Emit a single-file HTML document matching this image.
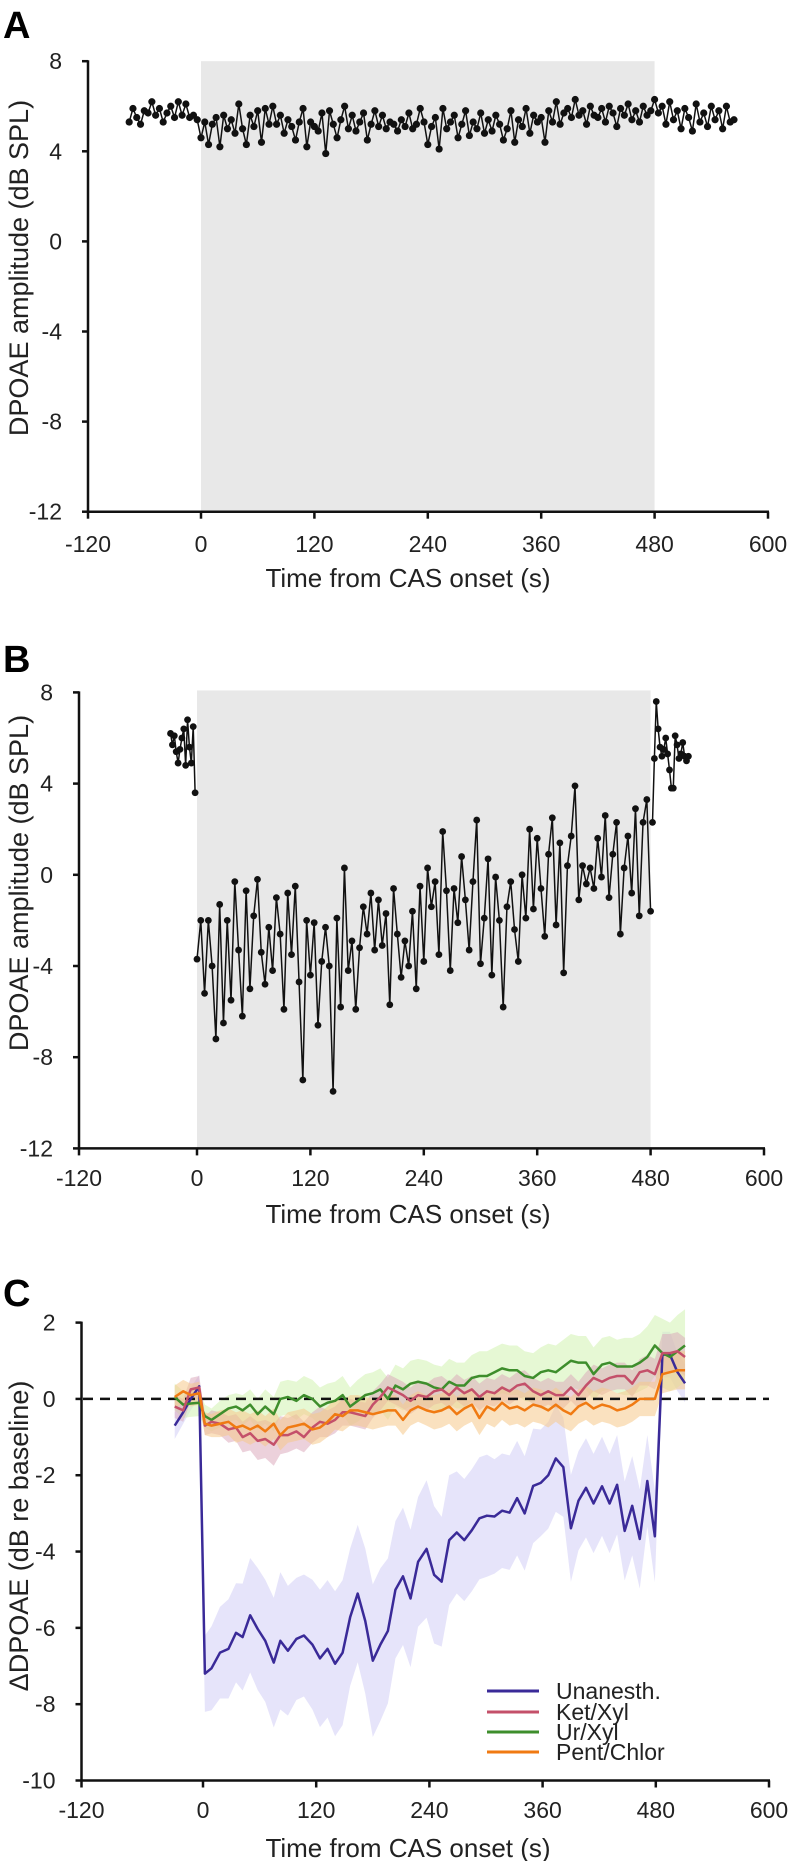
<!DOCTYPE html>
<html><head><meta charset="utf-8"><style>
html,body{margin:0;padding:0;background:#fff;}
svg{display:block;font-family:"Liberation Sans",sans-serif;}
</style></head><body>
<svg id="fig" width="789" height="1861" viewBox="0 0 789 1861" xmlns="http://www.w3.org/2000/svg"></svg>
<script>
// ---------- Panel A data ----------
const aPreValues=[5.3,5.9,5.5,5.2,5.8,5.7,6.2,5.6,5.9,5.3,5.7,6.0,5.5,6.2,5.6,6.1,5.5,5.6,5.4];
const aMainValues=[4.6,5.3,4.3,5.2,5.5,4.2,5.6,5.0,5.4,4.8,
6.1,5.0,4.3,5.6,5.1,5.8,4.4,5.9,5.2,6.0,
5.2,5.6,4.8,5.4,5.1,4.5,5.3,5.9,4.2,5.3,
5.1,4.9,5.7,3.9,5.8,5.2,4.6,5.4,6.0,5.0,
5.6,4.9,5.3,5.7,4.5,5.2,5.8,5.1,5.6,5.0,
5.3,5.2,4.9,5.4,5.1,5.7,5.0,5.2,5.9,5.3,
4.3,5.1,5.5,4.1,5.9,5.0,5.3,5.6,4.6,5.2,
5.8,4.7,5.3,5.0,5.7,4.8,5.4,4.9,5.6,5.2,
4.5,5.0,5.8,4.4,5.4,5.1,5.9,4.8,5.6,5.3,
5.5,4.4,5.8,5.3,6.2,5.2,5.7,5.9,5.5,6.3,
5.6,5.8,5.2,6.0,5.6,5.5,5.9,5.3,6.0,5.7,
5.1,5.9,5.6,6.1,5.4,5.8,5.3,6.0,5.6,5.8,6.3];
const aPostValues=[5.7,6.0,5.2,6.2,5.4,5.8,5.0,5.9,5.5,4.9,6.1,5.3,5.7,5.1,6.0,5.4,5.8,5.0,6.0,5.3,5.4];
// ---------- Panel B data ----------
const bPreValues=[6.2,5.7,6.1,5.4,4.9,5.5,6.0,6.4,4.8,6.8,5.6,4.9,6.5,3.6];
const bMainValues=[-3.7,-2.0,-5.2,-2.0,-4.0,-7.2,-1.3,-6.5,-2.0,-5.5,
-0.3,-3.3,-6.2,-0.7,-5.0,-1.8,-0.2,-3.4,-4.8,-2.3,
-4.2,-1.0,-2.6,-5.9,-0.8,-3.5,-0.5,-4.7,-9.0,-2.0,
-4.4,-2.1,-6.6,-3.8,-2.3,-4.0,-9.5,-1.9,-5.8,0.3,
-4.2,-2.9,-5.9,-3.2,-1.4,-2.6,-0.8,-3.3,-1.1,-3.1,
-1.7,-5.7,-0.6,-2.6,-4.5,-2.9,-4.0,-1.6,-5.0,-0.5,
-3.8,0.3,-1.4,-0.3,-3.5,1.9,-0.7,-4.2,-0.6,-2.1,
0.8,-1.1,-3.3,-0.3,2.4,-3.9,-1.9,0.7,-4.4,-0.1,
-2.0,-5.8,-1.4,-0.3,-2.4,-3.8,0.0,-1.9,2.0,-1.5,
1.6,-0.6,-2.7,0.9,2.5,-2.2,1.4,-4.3,0.4,1.7,
3.9,-1.1,0.4,-0.4,0.3,-0.6,1.6,-0.1,2.6,-1.0,
0.9,2.3,-2.6,0.3,1.7,-0.8,2.9,-1.8,2.3,3.3,-1.6];
const bPostValues=[2.3,5.1,7.6,6.4,5.6,5.2,5.5,6.0,5.3,4.6,3.8,3.8,6.1,5.7,5.1,5.3,5.8,5.2,5.0,5.2];
// ---------- Panel C data ----------
const cTimes=[-30,-21,-13,-4,
2,9,18,27,35,42,50,58,66,75,82,90,99,107,116,124,132,140,148,156,164,172,180,188,196,204,212,220,228,237,245,253,261,269,277,285,293,301,309,317,325,333,341,350,358,366,374,382,390,398,406,414,423,431,439,447,455,463,471,479,
487,495,503,511];
const unanesth=[-0.7,-0.35,0.0,0.33,
-7.2,-7.06,-6.65,-6.55,-6.13,-6.24,-5.67,-6.03,-6.34,-6.91,
-6.34,-6.6,-6.29,-6.2,-6.44,-6.8,-6.55,-6.94,-6.65,-5.72,
-5.1,-5.82,-6.86,-6.44,-6.08,-5.0,-4.65,-5.23,-4.27,-3.93,
-4.61,-4.79,-3.7,-3.5,-3.7,-3.44,-3.13,-3.06,-3.08,-2.93,
-2.98,-2.6,-3.0,-2.28,-2.2,-2.0,-1.56,-1.79,-3.39,-2.67,
-2.33,-2.74,-2.29,-2.74,-2.25,-3.46,-2.8,-3.67,-2.15,-3.6,
1.16,1.16,0.7,0.41];
const unanesthSd=[0.35,0.3,0.3,0.3,
1.0,1.1,1.2,1.3,1.3,1.4,1.5,1.6,1.6,1.7,
1.8,1.7,1.6,1.6,1.7,1.8,1.8,1.9,1.9,1.8,
1.8,1.9,2.0,2.0,1.9,1.8,1.8,1.8,1.7,1.8,
1.8,1.7,1.7,1.6,1.6,1.6,1.6,1.6,1.5,1.5,
1.5,1.5,1.5,1.5,1.4,1.4,1.4,1.3,1.4,1.3,
1.3,1.3,1.3,1.3,1.3,1.3,1.3,1.3,1.2,1.2,
0.6,0.6,0.5,0.5];
const ketXyl=[-0.2,-0.3,0.25,0.3,
-0.7,-0.6,-0.65,-0.8,-0.75,-1.0,-0.9,-1.1,-1.05,-1.2,
-0.95,-0.95,-0.85,-1.0,-0.75,-0.6,-0.65,-0.55,-0.35,-0.35,
-0.4,-0.45,-0.15,0.05,0.3,0.2,0.1,-0.05,0.1,0.05,
0.2,0.25,0.1,0.3,0.15,0.25,0.05,0.2,0.15,0.3,
0.2,0.35,0.4,0.2,0.1,0.2,0.1,0.1,0.3,0.1,
0.35,0.55,0.45,0.55,0.6,0.6,0.4,0.7,0.75,0.65,
1.2,1.2,1.25,1.1];
const ketXylSd=[0.3,0.3,0.3,0.3,
0.25,0.3,0.3,0.35,0.35,0.4,0.45,0.5,0.5,0.55,
0.5,0.45,0.45,0.4,0.4,0.4,0.35,0.35,0.35,0.35,
0.35,0.35,0.35,0.35,0.35,0.35,0.35,0.35,0.35,0.35,
0.35,0.35,0.35,0.35,0.35,0.35,0.35,0.35,0.35,0.35,
0.35,0.35,0.35,0.35,0.35,0.35,0.35,0.35,0.35,0.35,
0.35,0.35,0.35,0.35,0.35,0.35,0.35,0.35,0.4,0.4,
0.5,0.5,0.5,0.5];
const urXyl=[0.05,-0.15,-0.12,-0.1,
-0.45,-0.55,-0.4,-0.25,-0.2,-0.3,-0.15,-0.4,-0.2,-0.4,
0.0,0.05,-0.05,0.1,0.0,-0.2,-0.1,-0.05,0.1,-0.2,
-0.05,0.1,0.15,0.25,0.0,0.35,0.25,0.4,0.45,0.4,
0.3,0.25,0.45,0.35,0.35,0.55,0.6,0.6,0.7,0.8,
0.75,0.75,0.6,0.55,0.7,0.75,0.7,0.85,1.0,0.95,
0.95,0.65,0.9,0.95,0.85,0.85,0.85,0.95,1.1,1.4,
1.2,1.1,1.25,1.4];
const urXylSd=[0.35,0.35,0.35,0.35,
0.3,0.3,0.35,0.35,0.35,0.4,0.4,0.4,0.45,0.45,
0.45,0.45,0.5,0.5,0.5,0.5,0.5,0.5,0.5,0.5,
0.55,0.55,0.55,0.55,0.55,0.55,0.55,0.6,0.6,0.6,
0.6,0.6,0.6,0.6,0.6,0.6,0.65,0.65,0.65,0.65,
0.65,0.65,0.65,0.65,0.65,0.7,0.7,0.7,0.7,0.7,
0.7,0.7,0.7,0.7,0.7,0.75,0.75,0.75,0.8,0.8,
0.9,0.9,0.95,0.95];
const pentChlor=[0.05,0.2,0.1,0.15,
-0.65,-0.7,-0.65,-0.6,-0.75,-0.7,-0.8,-0.7,-0.85,-0.65,
-0.95,-0.75,-0.7,-0.65,-0.8,-0.75,-0.6,-0.4,-0.45,-0.3,
-0.3,-0.35,-0.4,-0.35,-0.3,-0.3,-0.55,-0.3,-0.2,-0.3,
-0.35,-0.3,-0.2,-0.4,-0.25,-0.15,-0.5,-0.2,-0.3,-0.1,
-0.25,-0.2,-0.3,-0.15,-0.2,-0.3,-0.15,-0.3,-0.4,-0.2,
-0.1,-0.25,-0.15,-0.2,-0.3,-0.25,-0.15,0.0,0.0,0.0,
0.65,0.7,0.75,0.75];
const pentChlorSd=[0.3,0.3,0.3,0.3,
0.3,0.3,0.35,0.35,0.4,0.4,0.4,0.4,0.4,0.4,
0.4,0.4,0.4,0.4,0.4,0.4,0.4,0.4,0.4,0.4,
0.4,0.4,0.4,0.4,0.4,0.4,0.4,0.4,0.4,0.4,
0.45,0.45,0.45,0.45,0.45,0.45,0.45,0.45,0.45,0.45,
0.45,0.45,0.45,0.45,0.45,0.45,0.45,0.45,0.45,0.45,
0.45,0.45,0.45,0.45,0.45,0.45,0.45,0.45,0.45,0.45,
0.5,0.5,0.5,0.5];
const xTickLabels=["-120","0","120","240","360","480","600"];
const xTickValues=[-120,0,120,240,360,480,600];
const abYTicks=[8,4,0,-4,-8,-12];
const cYTicks=[2,0,-2,-4,-6,-8,-10];

const NS="http://www.w3.org/2000/svg";
const svg=document.getElementById('fig');
function mk(tag,attrs,parent){const e=document.createElementNS(NS,tag);for(const k in attrs)e.setAttribute(k,attrs[k]);(parent||svg).appendChild(e);return e;}

function panel(cfg){
  const g=mk('g',{});
  
  
  const x=t=>cfg.x0+(t-0)*(cfg.x600-cfg.x0)/600;
  const y=v=>cfg.yTop+(cfg.yMax-v)*(cfg.yBot-cfg.yTop)/(cfg.yMax-cfg.yMin);
  const letter=mk('text',{x:3,y:cfg.letterY,'font-size':38,'font-weight':'bold'},g);
  letter.textContent=cfg.letter;
  
  
  if(cfg.shade){
    const r=mk('rect',{x:x(0),y:cfg.shadeTop,width:x(480)-x(0),height:cfg.yBot-cfg.shadeTop,fill:'#e8e8e8'},g);
    
    
  }
  const plot=mk('g',{},g);
  
  
  cfg.draw(plot,x,y);
  const ax=mk('g',{stroke:'#111','stroke-width':2.5,fill:'none'},g);
  
  
  mk('line',{x1:cfg.yAxisX,y1:cfg.yTop-1,x2:cfg.yAxisX,y2:cfg.yBot},ax);
  mk('line',{x1:cfg.yAxisX,y1:cfg.yBot,x2:cfg.x600+1,y2:cfg.yBot},ax);
  cfg.yTicks.forEach(v=>{
    mk('line',{x1:cfg.yAxisX-6,y1:y(v),x2:cfg.yAxisX,y2:y(v)},ax);
    const t=mk('text',{x:cfg.yAxisX-26,y:y(v)+8,'font-size':23,'text-anchor':'end',fill:'#222'},g);
    t.textContent=String(v);
    
    
  });
  xTickValues.forEach((v,i)=>{
    const px=i===0?cfg.yAxisX:x(v);
    mk('line',{x1:px,y1:cfg.yBot,x2:px,y2:cfg.yBot+7},ax);
    const t=mk('text',{x:px,y:cfg.xLabY,'font-size':23,'text-anchor':'middle',fill:'#222'},g);
    t.textContent=xTickLabels[i];
    
    
  });
  const xt=mk('text',{x:408,y:cfg.xTitleY,'font-size':26,'text-anchor':'middle',fill:'#222'},g);
  xt.textContent='Time from CAS onset (s)';
  
  
  const yt=mk('text',{x:0,y:0,'font-size':27,'text-anchor':'middle',fill:'#222',transform:`translate(28,${cfg.yTitleY}) rotate(-90)`},g);
  yt.textContent=cfg.yTitle;
  
  
}

function dotSeries(g,x,y,segs,r,name){
  segs.forEach(s=>{
    const pts=s.vals.map((v,i)=>[x(s.t0+i*s.dt),y(v)]);
    const p=mk('polyline',{points:pts.map(p=>p.join(',')).join(' '),fill:'none',stroke:'#111','stroke-width':1.5},g);
    
    
    pts.forEach(q=>{
      const c=mk('circle',{cx:q[0],cy:q[1],r:r,fill:'#111'},g);
      
      
    });
  });
}

panel({name:'panel-a',letter:'A',letterY:38,x0:201,x600:768,yAxisX:88,yTop:61.2,yBot:511.7,yMax:8,yMin:-12,
  shade:true,shadeTop:61.2,yTicks:abYTicks,xLabY:552,xTitleY:587,yTitleY:268,yTitle:'DPOAE amplitude (dB SPL)',
  draw:(g,x,y)=>dotSeries(g,x,y,[{t0:-76,dt:4,vals:aPreValues.concat(aMainValues).concat(aPostValues)}],3.6,'amplitude')});

panel({name:'panel-b',letter:'B',letterY:672,x0:197,x600:764,yAxisX:79,yTop:692.4,yBot:1148.4,yMax:8,yMin:-12,
  shade:true,shadeTop:690.4,yTicks:abYTicks,xLabY:1186,xTitleY:1223,yTitleY:883,yTitle:'DPOAE amplitude (dB SPL)',
  draw:(g,x,y)=>dotSeries(g,x,y,[{t0:-28,dt:2,vals:bPreValues},{t0:0,dt:4,vals:bMainValues},{t0:482,dt:2,vals:bPostValues}],3.4,'amplitude')});

panel({name:'panel-c',letter:'C',letterY:1306,x0:203,x600:769,yAxisX:81.5,yTop:1322.6,yBot:1780.5,yMax:2,yMin:-10,
  shade:false,yTicks:cYTicks,xLabY:1818,xTitleY:1857,yTitleY:1536,yTitle:'\u0394DPOAE (dB re baseline)',
  draw:(g,x,y)=>{
    const series=[
      {name:'unanesth',v:unanesth,sd:unanesthSd,col:'#3a2a98',band:'#dcd8f8',op:0.7},
      {name:'ur-xyl',v:urXyl,sd:urXylSd,col:'#3e8e2c',band:'#d6f3b8',op:0.6},
      {name:'ket-xyl',v:ketXyl,sd:ketXylSd,col:'#c4506a',band:'#d9a3b8',op:0.5},
      {name:'pent-chlor',v:pentChlor,sd:pentChlorSd,col:'#f07a12',band:'#f6c98a',op:0.55}];
    series.forEach(s=>{
      const up=cTimes.map((t,i)=>x(t)+','+y(s.v[i]+s.sd[i]));
      const lo=cTimes.map((t,i)=>x(t)+','+y(s.v[i]-s.sd[i])).reverse();
      const b=mk('polygon',{points:up.concat(lo).join(' '),fill:s.band,'fill-opacity':s.op,stroke:'none'},g);
      
      
    });
    const z=mk('line',{x1:83,y1:y(0),x2:769,y2:y(0),stroke:'#111','stroke-width':2.5,'stroke-dasharray':'10,7'},g);
    
    
    series.forEach(s=>{
      const l=mk('polyline',{points:cTimes.map((t,i)=>x(t)+','+y(s.v[i])).join(' '),fill:'none',stroke:s.col,'stroke-width':2.5,'stroke-linejoin':'round'},g);
      
      
    });
    const lg=mk('g',{},g);
    
    
    const entries=[['Unanesth.','#3a2a98',1691],['Ket/Xyl','#c4506a',1712],['Ur/Xyl','#3e8e2c',1732],['Pent/Chlor','#f07a12',1752]];
    entries.forEach(e=>{
      const eg=mk('g',{},lg);
      
      
      mk('line',{x1:487,y1:e[2],x2:539,y2:e[2],stroke:e[1],'stroke-width':3},eg);
      const t=mk('text',{x:556,y:e[2]+8,'font-size':23,fill:'#222'},eg);
      t.textContent=e[0];
    });
  }});
</script>
</body></html>
